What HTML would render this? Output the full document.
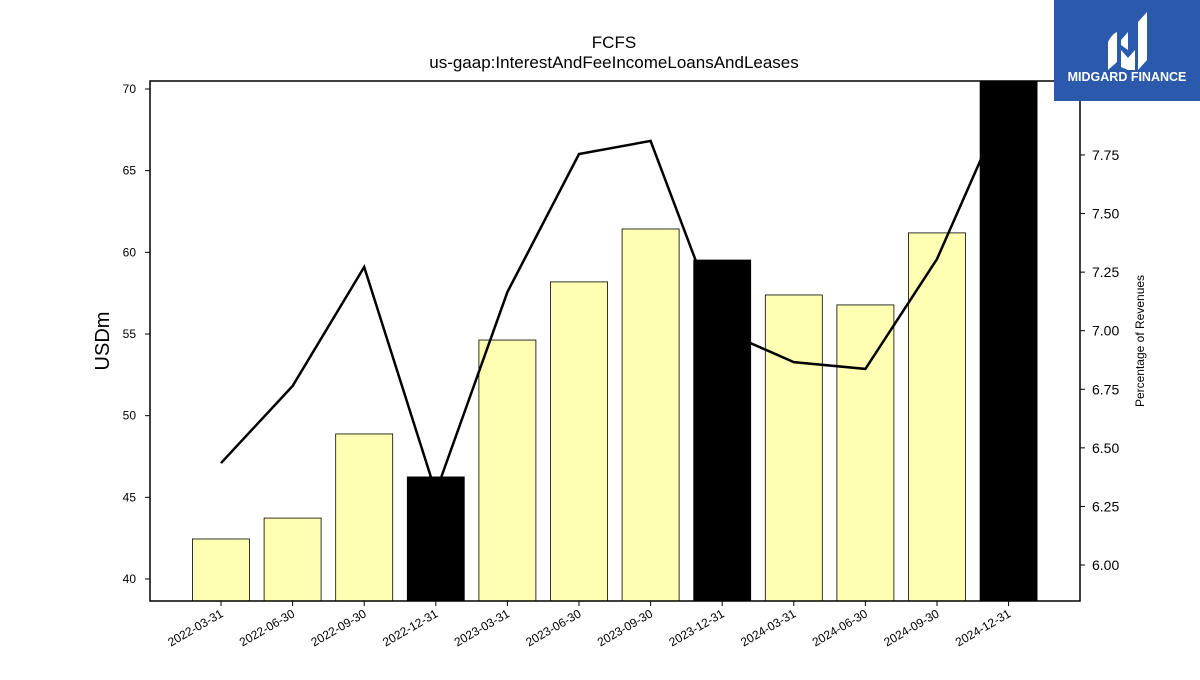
<!DOCTYPE html>
<html><head><meta charset="utf-8"><style>
body{margin:0;background:#fff;font-family:"Liberation Sans","DejaVu Sans",sans-serif}
</style></head><body>
<svg width="1200" height="675" xmlns="http://www.w3.org/2000/svg" font-family="Liberation Sans, DejaVu Sans, sans-serif">
<text x="614" y="48" text-anchor="middle" font-size="17">FCFS</text>
<text x="614" y="68" text-anchor="middle" font-size="17">us-gaap:InterestAndFeeIncomeLoansAndLeases</text>
<g id="plot"></g>
<rect x="150" y="81" width="930" height="520" fill="none" stroke="#000" stroke-width="1.5"/>
<text transform="translate(109,341) rotate(-90)" text-anchor="middle" font-size="20">USDm</text>
<text transform="translate(1144,341) rotate(-90)" text-anchor="middle" font-size="12">Percentage of Revenues</text>
<g>
<rect x="1054" y="0" width="146" height="101" fill="#2b5aad"/>
<path d="M1108 42 q4-8 9-10 v30 l-9 8 z M1121 40 l7-8 v18 l-7-5 z M1121 50 l7 8 l7-8 v20 l-7 0 l-7 -3 z M1138 22 l9-10 v48 l-9 10 z" fill="#fff"/>
<text x="1127" y="81" text-anchor="middle" font-size="12.5" font-weight="bold" fill="#fff">MIDGARD FINANCE</text>
</g>
</svg>
<script>
const categories=["2022-03-31","2022-06-30","2022-09-30","2022-12-31","2023-03-31","2023-06-30","2023-09-30","2023-12-31","2024-03-31","2024-06-30","2024-09-30","2024-12-31"];
const barValues=[42.45,43.73,48.88,46.25,54.63,58.19,61.43,59.53,57.39,56.78,61.19,71.0];
const barHighlight=[false,false,false,true,false,false,false,true,false,false,false,true];
const pctValues=[6.435,6.764,7.272,6.31,7.165,7.754,7.81,7.0,6.866,6.837,7.306,8.0];
const leftTicks=[40,45,50,55,60,65,70];
const rightTicks=[6.00,6.25,6.50,6.75,7.00,7.25,7.50,7.75];
const NS="http://www.w3.org/2000/svg";
const g=document.getElementById('plot');
const xS=i=>221+i*71.6;
const yL=v=>579-(v-40)*16.333;
const yR=v=>565-(v-6)*234.3;
function mk(t,a,p){const e=document.createElementNS(NS,t);for(const k in a)e.setAttribute(k,a[k]);(p||g).appendChild(e);return e;}
const clip=mk('clipPath',{id:'cp'});mk('rect',{x:150,y:81,width:930,height:520},clip);
const inner=mk('g',{'clip-path':'url(#cp)'});
function bar(i){const v=barValues[i];const y=yL(v);
 const r=mk('rect',{x:xS(i)-28.5,y:y,width:57,height:601-y,fill:barHighlight[i]?'#000':'#ffffb3',stroke:'#000','stroke-width':0.8},inner);
 
 }
categories.forEach((c,i)=>{if(!barHighlight[i])bar(i);});
const pl=mk('polyline',{points:pctValues.map((v,i)=>xS(i)+','+yR(v)).join(' '),fill:'none',stroke:'#000','stroke-width':2.5},inner);


categories.forEach((c,i)=>{if(barHighlight[i])bar(i);});
leftTicks.forEach(v=>{const y=yL(v);mk('line',{x1:145,x2:150,y1:y,y2:y,stroke:'#000'});
 const t=mk('text',{x:136,y:y+4,'text-anchor':'end','font-size':12});t.textContent=v;
 
 });
rightTicks.forEach(v=>{const y=yR(v);mk('line',{x1:1080,x2:1085,y1:y,y2:y,stroke:'#000'});
 const t=mk('text',{x:1092,y:y+5,'font-size':14});t.textContent=v.toFixed(2);
 
 });
categories.forEach((c,i)=>{const x=xS(i);mk('line',{x1:x,x2:x,y1:601,y2:606,stroke:'#000'});
 const t=mk('text',{transform:`translate(${x+3},${616}) rotate(-30)`,'text-anchor':'end','font-size':12});t.textContent=c;
 
 });
</script>
</body></html>
